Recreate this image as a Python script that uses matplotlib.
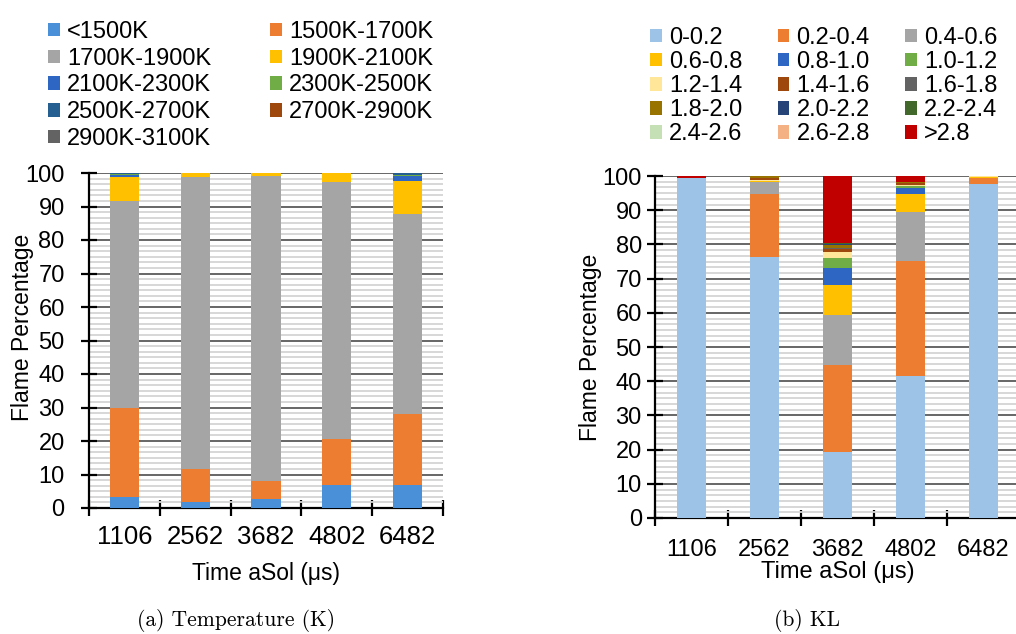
import numpy as np
import matplotlib.pyplot as plt
from matplotlib.ticker import MultipleLocator

plt.rcParams['font.family'] = ['Liberation Sans', 'DejaVu Sans']

times = ['1106', '2562', '3682', '4802', '6482']

# (a) temperature bins, flame percentage per time step
t_lt1500 = [3.3, 1.8, 2.8, 6.8, 6.8]
t_1500_1700 = [26.7, 9.8, 5.3, 13.8, 21.2]
t_1700_1900 = [61.5, 87.2, 91.1, 76.6, 59.8]
t_1900_2100 = [7.3, 1.2, 0.8, 2.8, 9.8]
t_2100_2300 = [0.7, 0.0, 0.0, 0.0, 1.5]
t_2300_2500 = [0.3, 0.0, 0.0, 0.0, 0.3]
t_2500_2700 = [0.2, 0.0, 0.0, 0.0, 0.6]
t_2700_2900 = [0.0, 0.0, 0.0, 0.0, 0.0]
t_2900_3100 = [0.0, 0.0, 0.0, 0.0, 0.0]

temp_labels = ['<1500K', '1500K-1700K', '1700K-1900K', '1900K-2100K', '2100K-2300K',
               '2300K-2500K', '2500K-2700K', '2700K-2900K', '2900K-3100K']
temp_colors = ['#4a90d9', '#ed7d31', '#a5a5a5', '#ffc000', '#2e66c4',
               '#70ad47', '#255e91', '#9e480e', '#636363']

# (b) KL bins
k_00_02 = [99.3, 76.4, 19.2, 41.6, 97.6]
k_02_04 = [0.2, 18.2, 25.6, 33.6, 1.8]
k_04_06 = [0.0, 3.5, 14.6, 14.4, 0.0]
k_06_08 = [0.0, 0.4, 8.6, 5.0, 0.4]
k_08_10 = [0.0, 0.0, 5.2, 2.0, 0.0]
k_10_12 = [0.0, 0.0, 2.9, 0.6, 0.0]
k_12_14 = [0.0, 0.3, 1.8, 0.2, 0.2]
k_14_16 = [0.0, 0.6, 0.8, 0.5, 0.0]
k_16_18 = [0.0, 0.0, 0.3, 0.0, 0.0]
k_18_20 = [0.0, 0.6, 0.7, 0.2, 0.0]
k_20_22 = [0.0, 0.0, 0.3, 0.0, 0.0]
k_22_24 = [0.0, 0.0, 0.3, 0.0, 0.0]
k_24_26 = [0.0, 0.0, 0.0, 0.0, 0.0]
k_26_28 = [0.0, 0.0, 0.0, 0.0, 0.0]
k_gt28 = [0.5, 0.0, 19.7, 1.9, 0.0]

kl_labels = ['0-0.2', '0.2-0.4', '0.4-0.6', '0.6-0.8', '0.8-1.0', '1.0-1.2', '1.2-1.4',
             '1.4-1.6', '1.6-1.8', '1.8-2.0', '2.0-2.2', '2.2-2.4', '2.4-2.6', '2.6-2.8', '>2.8']
kl_colors = ['#9dc3e6', '#ed7d31', '#a5a5a5', '#ffc000', '#2e66c4', '#70ad47', '#ffe699',
             '#9e480e', '#636363', '#997300', '#264478', '#43682b', '#c5e0b4', '#f4b183', '#c00000']

temp_series = [t_lt1500, t_1500_1700, t_1700_1900, t_1900_2100, t_2100_2300,
               t_2300_2500, t_2500_2700, t_2700_2900, t_2900_3100]
kl_series = [k_00_02, k_02_04, k_04_06, k_06_08, k_08_10, k_10_12, k_12_14, k_14_16,
             k_16_18, k_18_20, k_20_22, k_22_24, k_24_26, k_26_28, k_gt28]

W, H = 1016, 634
fig = plt.figure(figsize=(W / 100, H / 100), dpi=100)


def px_axes(x0, y0, x1, y1):
    # axes from pixel box (top-left origin)
    return fig.add_axes([x0 / W, 1 - y1 / H, (x1 - x0) / W, (y1 - y0) / H])


def stacked(ax, series, labels, colors, width):
    x = np.arange(len(times))
    bottom = np.zeros(len(times))
    handles = []
    for vals, lab, col in zip(series, labels, colors):
        h = ax.bar(x, vals, width, bottom=bottom, color=col, label=lab, zorder=3)
        bottom += np.array(vals)
        handles.append(h)
    return handles


def style(ax, xsize, ypad, xpad):
    x = np.arange(len(times))
    ax.set_xlim(-0.5, len(times) - 0.5)
    ax.set_ylim(0, 100)
    ax.set_axisbelow(True)
    ax.yaxis.set_major_locator(MultipleLocator(10))
    ax.yaxis.set_minor_locator(MultipleLocator(10 / 6))
    ax.grid(which='major', axis='y', color='#5a5a5a', lw=1.3)
    ax.grid(which='minor', axis='y', color='#d4d4d4', lw=1.3)
    ax.spines['top'].set_visible(False)
    ax.spines['right'].set_visible(False)
    for s in ['left', 'bottom']:
        ax.spines[s].set_linewidth(1.6)
        ax.spines[s].set_color('black')
    ax.set_xticks(x)
    ax.set_xticklabels(times)
    ax.set_xticks(np.arange(-0.5, len(times)), minor=True)
    ax.tick_params(axis='x', which='major', length=0, pad=xpad, labelsize=xsize)
    ax.tick_params(axis='x', which='minor', length=11, width=1.6, direction='inout')
    ax.tick_params(axis='y', which='major', length=11, width=1.6, direction='inout',
                   pad=ypad, labelsize=17)
    ax.tick_params(axis='y', which='minor', length=0)


# (a) Temperature
ax1 = px_axes(89, 173, 443, 508)
h1 = stacked(ax1, temp_series, temp_labels, temp_colors, 0.41)
style(ax1, 18.5, 12, 12)
ax1.set_ylabel('Flame Percentage', fontsize=16.5)
ax1.yaxis.set_label_coords(-0.155, 0.54)
ax1.set_xlabel('Time aSol (μs)', fontsize=16.5)
ax1.xaxis.set_label_coords(0.5, -0.16)

# (b) KL
ax2 = px_axes(655, 176, 655 + 5 * 73, 518)
h2 = stacked(ax2, kl_series, kl_labels, kl_colors, 0.41)
style(ax2, 17, 4, 15)
ax2.set_ylabel('Flame Percentage', fontsize=16.5)
ax2.yaxis.set_label_coords(-0.145, 0.5)
ax2.set_xlabel('Time aSol (μs)', fontsize=17)
ax2.xaxis.set_label_coords(0.5, -0.125)

# legends: Excel fills rows first, matplotlib fills columns first
order1 = [0, 2, 4, 6, 8, 1, 3, 5, 7]
fig.legend([h1[i] for i in order1], [temp_labels[i] for i in order1], ncol=2,
           loc='upper left', bbox_to_anchor=(48 / W, 1 - 21 / H), frameon=False,
           fontsize=17, handlelength=0.5, handleheight=0.5, handletextpad=0.3,
           labelspacing=0.2, columnspacing=2.5, borderpad=0, borderaxespad=0)

order2 = list(range(0, 15, 3)) + list(range(1, 15, 3)) + list(range(2, 15, 3))
fig.legend([h2[i] for i in order2], [kl_labels[i] for i in order2], ncol=3,
           loc='upper left', bbox_to_anchor=(650 / W, 1 - 27 / H), frameon=False,
           fontsize=17, handlelength=0.5, handleheight=0.5, handletextpad=0.3,
           labelspacing=0.09, columnspacing=1.5, borderpad=0, borderaxespad=0)

# captions
cap_font = ['cmr10', 'DejaVu Serif']
fig.text(236 / W, 1 - 621 / H, '(a) Temperature (K)', family=cap_font, fontsize=15.5,
         ha='center', va='center')
fig.text(807 / W, 1 - 621 / H, '(b) KL', family=cap_font, fontsize=15.5,
         ha='center', va='center')

fig.savefig('out.png', dpi=100)
